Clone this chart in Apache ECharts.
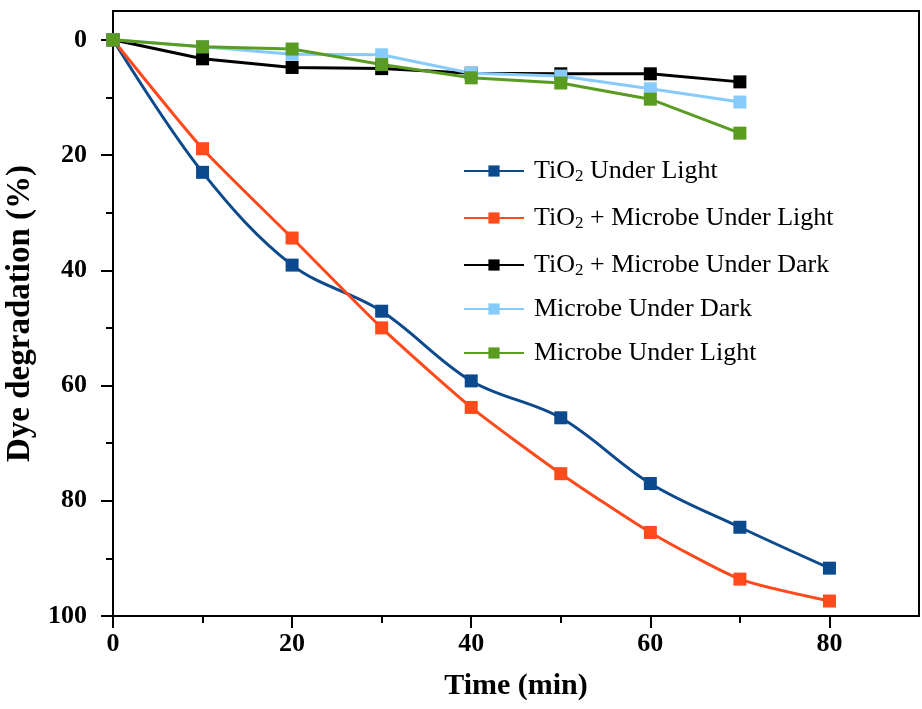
<!DOCTYPE html>
<html>
<head>
<meta charset="utf-8">
<title>Dye degradation</title>
<script src="https://cdn.jsdelivr.net/npm/echarts@6/dist/echarts.min.js"></script>
<style>
  html, body { margin: 0; padding: 0; background: #fff; }
  #chart { width: 922px; height: 709px; }
</style>
</head>
<body>
<div id="chart"></div>
<script>
// time points (min)
const times = [0, 10, 20, 30, 40, 50, 60, 70, 80]
const timesShort = [0, 10, 20, 30, 40, 50, 60, 70]

// dye degradation (%) per series
const tio2Light = [0, 23.0, 39.1, 47.1, 59.2, 65.6, 77.0, 84.6, 91.7]
const tio2MicrobeLight = [0, 18.9, 34.4, 50.0, 63.8, 75.3, 85.5, 93.6, 97.4]
const tio2MicrobeDark = [0, 3.3, 4.8, 5.0, 5.8, 5.9, 5.9, 7.3]
const microbeDark = [0, 1.2, 2.5, 2.6, 5.8, 6.3, 8.5, 10.8]
const microbeLight = [0, 1.2, 1.6, 4.3, 6.6, 7.5, 10.3, 16.2]

// tick labels
const xLabels = [0, 20, 40, 60, 80]
const yLabels = [0, 20, 40, 60, 80, 100]
const xMinor = [10, 30, 50, 70]
const yMinor = [10, 30, 50, 70, 90]

const serif = '"Liberation Serif", "DejaVu Serif", serif'

// plot box and axis ranges
const box = { left: 113, right: 3, top: 11, bottom: 93 }
const boxW = 922 - box.left - box.right
const boxH = 709 - box.top - box.bottom
const xRange = [0, 90]
const yRange = [-5, 100]
const xTickMax = 80 // major ticks stop at 80, the axis runs on to 90
const yTickMin = 0  // major ticks start at 0, the axis starts at -5
const majorLen = 12
const minorLen = 7

// trimmed box edges for the major tick strips
const tickRight = box.right + boxW * (xRange[1] - xTickMax) / (xRange[1] - xRange[0])
const tickTop = box.top + boxH * (yTickMin - yRange[0]) / (yRange[1] - yRange[0])

const chart = echarts.init(document.getElementById('chart'))

const pairs = (xs, ys) => ys.map((v, i) => [xs[i], v])

const makeSeries = (name, xs, ys, color, smooth) => ({
  name: name,
  type: 'line',
  data: pairs(xs, ys),
  xAxisIndex: 0,
  yAxisIndex: 0,
  smooth: smooth,
  symbol: 'rect',
  symbolSize: 13,
  lineStyle: { width: 3, color: color },
  itemStyle: { color: color },
  emphasis: { disabled: true }
})

const blackLine = { color: '#000', width: 2 }

// invisible axis; extra options switch on what it should draw
const bare = extra => Object.assign({
  type: 'value',
  axisLine: { show: false, onZero: false },
  axisTick: { show: false },
  axisLabel: { show: false },
  splitLine: { show: false }
}, extra)

// split lines of a thin strip grid act as the long (major) ticks
const majorStrip = extra => bare(Object.assign({
  interval: 20,
  splitLine: { show: true, showMinLine: true, showMaxLine: true, lineStyle: blackLine }
}, extra))

const option = {
  animation: false,
  grid: [
    {
      left: box.left,
      right: box.right,
      top: box.top,
      bottom: box.bottom,
      outerBoundsMode: 'none',
      show: true,
      borderColor: '#000',
      borderWidth: 2
    },
    // strip under the x axis
    {
      left: box.left,
      right: tickRight,
      top: 709 - box.bottom,
      bottom: box.bottom - majorLen,
      outerBoundsMode: 'none',
      show: false
    },
    // strip left of the y axis
    {
      left: box.left - majorLen,
      right: 922 - box.left,
      top: tickTop,
      bottom: box.bottom,
      outerBoundsMode: 'none',
      show: false
    }
  ],
  legend: {
    orient: 'vertical',
    left: 458,
    top: 149,
    itemWidth: 60,
    itemHeight: 14,
    itemGap: 16,
    formatter: name => name.replace('TiO2', 'TiO{sub|2}'),
    textStyle: {
      fontFamily: serif,
      fontSize: 26,
      color: '#000',
      lineHeight: 28,
      padding: [0, 0, 0, 5],
      rich: {
        sub: {
          fontFamily: serif,
          fontSize: 17,
          verticalAlign: 'bottom',
          padding: [14, 0, 0, 0],
          lineHeight: 28
        }
      }
    },
    data: [
      'TiO2 Under Light',
      'TiO2 + Microbe Under Light',
      'TiO2 + Microbe Under Dark',
      'Microbe Under Dark',
      'Microbe Under Light'
    ]
  },
  xAxis: [
    {
      type: 'value',
      gridIndex: 0,
      position: 'bottom',
      min: xRange[0],
      max: xRange[1],
      name: 'Time (min)',
      nameLocation: 'middle',
      nameGap: 55,
      nameTextStyle: { fontFamily: serif, fontSize: 30, fontWeight: 'bold', color: '#000' },
      axisLine: { show: true, onZero: false, lineStyle: blackLine },
      axisTick: { show: true, customValues: xMinor, length: minorLen, lineStyle: blackLine },
      axisLabel: {
        customValues: xLabels,
        margin: 15,
        fontFamily: serif,
        fontSize: 26,
        fontWeight: 'bold',
        color: '#000'
      },
      splitLine: { show: false }
    },
    majorStrip({ gridIndex: 1, position: 'bottom', min: xRange[0], max: xTickMax }),
    bare({ gridIndex: 2, position: 'bottom', min: 0, max: 1 })
  ],
  yAxis: [
    {
      type: 'value',
      gridIndex: 0,
      position: 'left',
      inverse: true,
      min: yRange[0],
      max: yRange[1],
      name: 'Dye degradation (%)',
      nameLocation: 'middle',
      nameGap: 68,
      nameTextStyle: { fontFamily: serif, fontSize: 33, fontWeight: 'bold', color: '#000' },
      axisLine: { show: true, onZero: false, lineStyle: blackLine },
      axisTick: { show: true, customValues: yMinor, length: minorLen, lineStyle: blackLine },
      axisLabel: {
        customValues: yLabels,
        margin: 26,
        fontFamily: serif,
        fontSize: 26,
        fontWeight: 'bold',
        color: '#000'
      },
      splitLine: { show: false }
    },
    bare({ gridIndex: 1, position: 'left', min: 0, max: 1 }),
    majorStrip({ gridIndex: 2, position: 'left', inverse: true, min: yTickMin, max: yRange[1] })
  ],
  series: [
    makeSeries('TiO2 Under Light', times, tio2Light, '#0b4a8c', 0.35),
    makeSeries('TiO2 + Microbe Under Light', times, tio2MicrobeLight, '#ff4a1c', 0.2),
    makeSeries('TiO2 + Microbe Under Dark', timesShort, tio2MicrobeDark, '#000000', false),
    makeSeries('Microbe Under Dark', timesShort, microbeDark, '#87cbfb', false),
    makeSeries('Microbe Under Light', timesShort, microbeLight, '#5a9c22', false)
  ]
}

chart.setOption(option)
</script>
</body>
</html>
